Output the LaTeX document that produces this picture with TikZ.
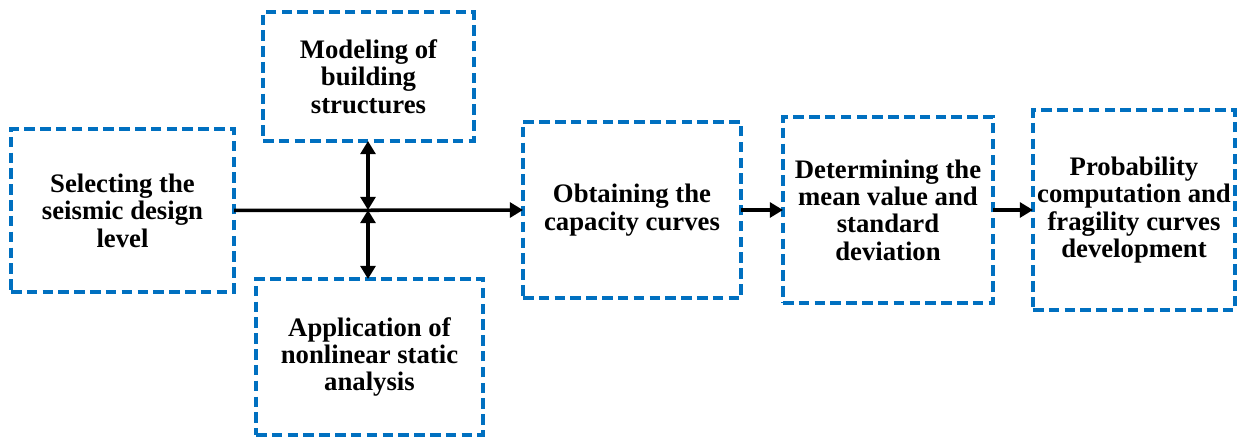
\documentclass[tikz,border=0pt]{standalone}
\usepackage{fontspec}
\setmainfont{Liberation Serif}
\usepackage{tikz}
\usetikzlibrary{arrows.meta,calc}
\definecolor{boxblue}{RGB}{0,112,192}

\tikzset{
  stepbox/.style={draw=boxblue, line width=2pt, dash pattern=on 6pt off 3pt,
    align=center, font=\bfseries\fontsize{15.2}{15.6}\selectfont,
    inner sep=0pt, outer sep=0pt},
  flow/.style={line width=2pt, -{Triangle[length=7.5pt,width=8.5pt]}},
  both/.style={line width=2pt, {Triangle[length=7.5pt,width=8.5pt]}-{Triangle[length=7.5pt,width=8.5pt]}}
}

\begin{document}
\begin{tikzpicture}
\useasboundingbox (0cm,0cm) rectangle (24.94cm,-8.76cm);
\node[stepbox, minimum width=4.46cm, minimum height=3.26cm] (select) at (2.45cm,-4.21cm) {Selecting the\\seismic design\\level};
\node[stepbox, minimum width=4.22cm, minimum height=2.58cm] (model) at (7.37cm,-1.53cm) {Modeling of\\building\\structures};
\node[stepbox, minimum width=4.54cm, minimum height=3.12cm] (apply) at (7.39cm,-7.14cm) {Application of\\nonlinear static\\analysis};
\node[stepbox, minimum width=4.36cm, minimum height=3.52cm] (capacity) at (12.64cm,-4.2cm) {Obtaining the\\capacity curves};
\node[stepbox, minimum width=4.2cm, minimum height=3.72cm] (mean) at (17.76cm,-4.2cm) {Determining the\\mean value and\\standard\\deviation};
\node[stepbox, minimum width=4.04cm, minimum height=4.0cm] (prob) at (22.68cm,-4.2cm) {Probability\\computation and\\fragility curves\\development};
\coordinate (junction) at (7.36cm,-4.2cm);
\draw[flow] (select.east) -- (capacity.west);
\draw[both] (junction) -- (junction |- model.south);
\draw[both] (junction) -- (junction |- apply.north);
\draw[flow] (capacity.east) -- (mean.west);
\draw[flow] (mean.east) -- (prob.west);
\end{tikzpicture}
\end{document}
